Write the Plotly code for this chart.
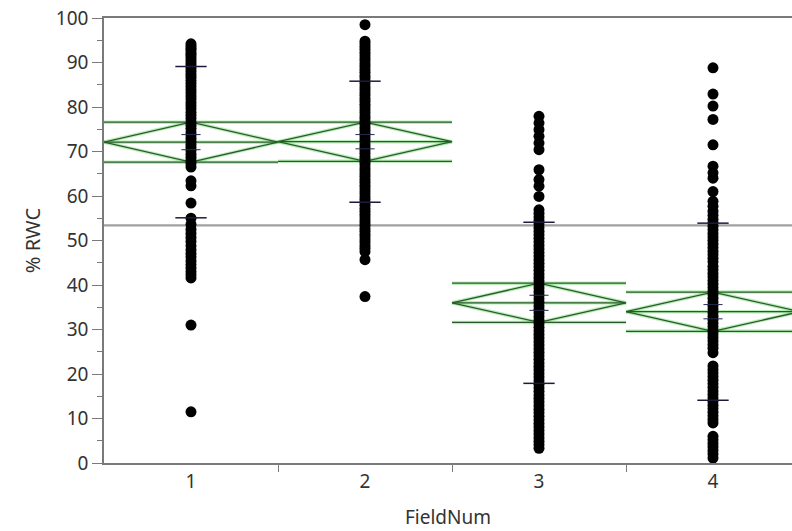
import plotly.graph_objects as go

# ---- data ----
groups = [1, 2, 3, 4]
group_labels = ["1", "2", "3", "4"]

rwc_g1 = [94.2, 93.7, 93.2, 92.7, 92.1, 91.6, 91.0, 90.4, 89.8, 89.2, 88.6, 88.0, 87.3, 86.7,
          86.0, 85.3, 84.6, 83.9, 83.2, 82.5, 81.8, 81.0, 80.3, 79.6, 78.8, 78.1, 77.4, 76.6,
          75.9, 75.2, 74.4, 73.7, 73.0, 72.3, 71.6, 70.9, 70.2, 69.4, 68.7, 68.0, 67.3, 66.5,
          63.4, 62.3, 58.4, 55.0, 53.6, 52.5, 51.6, 50.7, 49.8, 48.8, 47.9, 47.1, 46.3, 45.4,
          44.6, 43.8, 43.0, 42.3, 41.6, 31.0, 11.5]
rwc_g2 = [98.5, 94.8, 94.2, 93.6, 93.0, 92.3, 91.7, 91.0, 90.4, 89.7, 89.1, 88.4, 87.8, 87.1,
          86.5, 85.8, 85.2, 84.5, 83.9, 83.2, 82.6, 81.9, 81.3, 80.6, 80.0, 79.3, 78.7, 78.0,
          77.4, 76.7, 76.1, 75.4, 74.8, 74.1, 73.5, 72.8, 72.2, 71.5, 70.9, 70.2, 69.6, 68.9,
          68.3, 67.6, 67.0, 66.3, 65.7, 65.0, 64.4, 63.7, 63.1, 62.4, 61.8, 61.1, 60.5, 59.8,
          59.2, 58.5, 57.9, 57.2, 56.6, 55.9, 55.3, 54.6, 54.0, 53.4, 52.7, 52.1, 51.4, 50.8,
          50.1, 49.5, 48.8, 48.2, 47.5, 45.7, 37.4]
rwc_g3 = [77.9, 76.4, 74.9, 73.4, 71.9, 70.4, 65.9, 63.7, 62.2, 59.9, 56.9, 56.1, 55.3, 54.5,
          53.7, 52.9, 52.1, 51.3, 50.5, 49.7, 48.9, 48.1, 47.3, 46.5, 45.7, 44.9, 44.1, 43.3,
          42.5, 41.7, 40.9, 40.1, 39.3, 38.5, 37.7, 36.9, 36.1, 35.3, 34.5, 33.7, 32.9, 32.1,
          31.3, 30.5, 29.7, 28.9, 28.1, 27.3, 26.5, 25.7, 24.9, 24.1, 23.3, 22.5, 21.7, 20.9,
          20.1, 19.3, 18.5, 17.7, 16.9, 16.1, 15.3, 14.5, 13.7, 12.9, 12.1, 11.3, 10.5, 9.7,
          8.9, 8.1, 7.3, 6.5, 5.7, 4.9, 4.1, 3.3]
rwc_g4 = [88.8, 82.9, 80.2, 77.2, 71.5, 66.7, 65.2, 64.0, 61.0, 58.8, 57.7, 56.6, 55.7, 54.8,
          54.0, 53.2, 52.4, 51.6, 50.8, 50.0, 49.2, 48.4, 47.6, 46.8, 46.0, 45.2, 44.2, 43.4,
          42.6, 41.8, 41.0, 40.2, 39.4, 38.6, 37.8, 37.0, 36.2, 35.4, 34.6, 33.8, 33.0, 32.2,
          31.4, 30.6, 29.8, 29.0, 28.2, 27.4, 26.6, 25.8, 24.8, 21.8, 21.0, 20.2, 19.4, 18.6,
          17.8, 17.0, 16.2, 15.4, 14.6, 13.8, 13.0, 12.2, 11.4, 10.6, 9.8, 9.0, 6.0, 5.2, 4.4,
          3.6, 2.8, 2.0, 1.1]
rwc_values = [rwc_g1, rwc_g2, rwc_g3, rwc_g4]

group_means = [72.1, 72.2, 36.0, 34.0]
ci_half = [4.5, 4.4, 4.4, 4.4]
overlap_half = [1.7, 1.6, 1.7, 1.6]
group_sd = [17.0, 13.6, 18.1, 19.9]
grand_mean = 53.4

y_ticks = [0, 10, 20, 30, 40, 50, 60, 70, 80, 90, 100]

# ---- figure ----
fig = go.Figure()

FONT = "Noto Sans, Open Sans, DejaVu Sans, sans-serif"

# grand mean line
fig.add_trace(go.Scatter(x=[0.5, 4.5], y=[grand_mean, grand_mean], mode="lines",
                         line=dict(color="#a0a0a0", width=2.2), hoverinfo="skip"))

# means diamonds
for g, m, c in zip(groups, group_means, ci_half):
    dx = [g - 0.5, g, g + 0.5, g, g - 0.5]
    dy = [m, m + c, m, m - c, m]
    hx = [g - 0.5, g + 0.5, None, g - 0.5, g + 0.5, None, g - 0.5, g + 0.5]
    hy = [m + c, m + c, None, m, m, None, m - c, m - c]
    for col, w in [("rgba(80,210,80,0.40)", 3.5), ("#2a5a2a", 1.3)]:
        fig.add_trace(go.Scatter(x=dx, y=dy, mode="lines", line=dict(color=col, width=w),
                                 hoverinfo="skip"))
        fig.add_trace(go.Scatter(x=hx, y=hy, mode="lines", line=dict(color=col, width=w),
                                 hoverinfo="skip", connectgaps=False))

# points
for g, vals in zip(groups, rwc_values):
    fig.add_trace(go.Scatter(x=[g] * len(vals), y=vals, mode="markers",
                             marker=dict(color="black", size=11, line=dict(width=0))))

# std dev marks and overlap marks
for g, m, s, o in zip(groups, group_means, group_sd, overlap_half):
    fig.add_trace(go.Scatter(
        x=[g - 0.09, g + 0.09, None, g - 0.09, g + 0.09],
        y=[m + s, m + s, None, m - s, m - s], mode="lines",
        line=dict(color="#1c1c3a", width=1.5), hoverinfo="skip"))
    fig.add_trace(go.Scatter(
        x=[g - 0.055, g + 0.055, None, g - 0.055, g + 0.055],
        y=[m + o, m + o, None, m - o, m - o], mode="lines",
        line=dict(color="#2a2a50", width=1.0), hoverinfo="skip"))

fig.update_layout(
    width=792, height=531,
    margin=dict(l=104, r=0, t=18, b=68),
    paper_bgcolor="white", plot_bgcolor="white",
    showlegend=False,
    font=dict(family=FONT, size=19, color="#333333"),
    xaxis=dict(
        range=[0.5, 4.454], tickmode="array", tickvals=groups, ticktext=group_labels,
        ticks="", showgrid=False, zeroline=False,
        showline=True, mirror=True, linecolor="#7a7a7a", linewidth=1.5,
        minor=dict(tickmode="array", tickvals=[1.5, 2.5, 3.5], ticks="outside",
                   ticklen=7, tickcolor="#7a7a7a", tickwidth=1.2, showgrid=False),
        title=dict(text="FieldNum", font=dict(size=19, color="#333333"), standoff=18),
        tickfont=dict(size=19, color="#333333"),
    ),
    yaxis=dict(
        range=[0, 100], tickmode="array", tickvals=y_ticks,
        ticks="outside", ticklen=10, tickcolor="#7a7a7a", tickwidth=1.2,
        showgrid=False, zeroline=False,
        showline=True, linecolor="#7a7a7a", linewidth=1.5,
        minor=dict(dtick=5, ticks="outside", ticklen=5, tickcolor="#7a7a7a", tickwidth=1.2,
                   showgrid=False),
        title=dict(text="% RWC", font=dict(size=20, color="#333333"), standoff=10),
        tickfont=dict(size=19, color="#333333"),
    ),
)

fig.write_html("out.html")
